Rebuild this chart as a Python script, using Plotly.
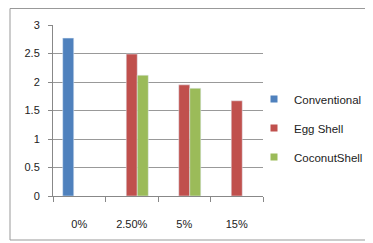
import plotly.graph_objects as go

categories = ["0%", "2.50%", "5%", "15%"]
conventional = [2.77, None, None, None]
egg_shell = [None, 2.49, 1.95, 1.67]
coconut_shell = [None, 2.12, 1.89, None]
series_names = ["Conventional", "Egg Shell", "CoconutShell"]
colors = ["#4F81BD", "#C0504D", "#9BBB59"]

FONT = "Liberation Sans, Arial"
OFF = 8  # page body margin
PL, PR, PT, PB = 53 - OFF, 263 - OFF, 25 - OFF, 196 - OFF
W, H = 373 - OFF, 243 - OFF
pw, ph = PR - PL, PB - PT

fig = go.Figure()
for vals, name, col in zip([conventional, egg_shell, coconut_shell], series_names, colors):
    fig.add_bar(x=categories, y=vals, name=name, marker_color=col, showlegend=False)
# legend entries with small square symbols
for i, (name, col) in enumerate(zip(series_names, colors)):
    fig.add_scatter(x=[None], y=[None], mode="markers", name=name,
                    marker=dict(symbol="square", size=7, color=col),
                    legendgroup=f"g{i}", showlegend=True)

fig.update_layout(
    width=W, height=H,
    margin=dict(l=PL, r=W - PR, t=PT, b=H - PB, autoexpand=False),
    paper_bgcolor="white", plot_bgcolor="white",
    barmode="group", bargap=0.37, bargroupgap=0,
    font=dict(family=FONT, size=11, color="#222"),
    legend=dict(x=(246 - PL) / pw, y=(PB - 120) / ph, xanchor="left", yanchor="middle",
                font=dict(family=FONT, size=11.5, color="#222"),
                tracegroupgap=10, itemwidth=30, bgcolor="rgba(0,0,0,0)"),
    xaxis=dict(type="category", showline=True, linecolor="#888", linewidth=1,
               ticks="outside", tickson="boundaries", ticklen=5, tickcolor="#888",
               ticklabelstandoff=18, showgrid=False),
    yaxis=dict(range=[0, 3], dtick=0.5, showline=True, linecolor="#888", linewidth=1,
               ticks="outside", ticklen=4, tickcolor="#888", ticklabelstandoff=6,
               gridcolor="#999", gridwidth=1, zeroline=False),
    shapes=[dict(type="rect", xref="paper", yref="paper",
                 x0=(2 - PL) / pw, x1=2.0, y0=(PB - 232) / ph, y1=(PB - 0.5) / ph,
                 line=dict(color="#999", width=1), fillcolor="rgba(0,0,0,0)", layer="below")],
)

fig.write_html("out.html")
